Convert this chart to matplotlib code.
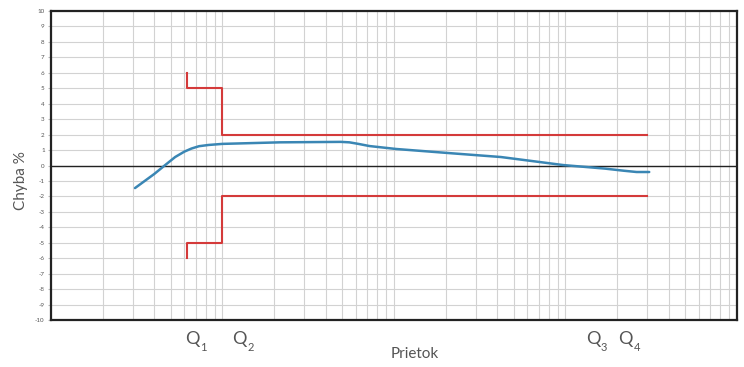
import numpy as np
import matplotlib
matplotlib.use("Agg")
import matplotlib.pyplot as plt
import matplotlib.transforms as mtransforms
from matplotlib.ticker import LogLocator, NullFormatter

# Data (x is flow on log scale, y is error %)
curve_x = [3.09, 4.0, 4.6, 5.3, 6.0, 6.6, 7.3, 8.3, 10.0, 21.6, 49.0, 55.0, 62.0, 72.0, 103.0, 212.0, 420.0, 970.0, 1700.0, 2200.0, 2600.0, 3080.0]
curve_y = [-1.46, -0.55, 0.0, 0.55, 0.9, 1.1, 1.25, 1.33, 1.40, 1.50, 1.53, 1.50, 1.40, 1.26, 1.07, 0.8, 0.55, 0.03, -0.2, -0.34, -0.42, -0.42]

upper_x = [6.25, 6.25, 10.0, 10.0, 3000.0]
upper_y = [6, 5, 5, 2, 2]
lower_x = [6.25, 6.25, 10.0, 10.0, 3000.0]
lower_y = [-6, -5, -5, -2, -2]

q_labels = ["1", "2", "3", "4"]
q_pos = [6.7, 12.6, 1450.0, 2250.0]

y_ticks = list(range(-10, 11))

plt.rcParams['font.family'] = ['Lato', 'DejaVu Sans']
fig = plt.figure(figsize=(7.44, 3.67), dpi=100)
ax = fig.add_axes([0.0685, 0.128, 0.922, 0.842])

ax.set_xscale('log')
ax.set_xlim(1, 10000)
ax.set_ylim(-10, 10)

ax.xaxis.set_major_locator(LogLocator(base=10, numticks=10))
ax.xaxis.set_minor_locator(LogLocator(base=10, subs=np.arange(2, 10), numticks=50))
ax.xaxis.set_major_formatter(NullFormatter())
ax.xaxis.set_minor_formatter(NullFormatter())
ax.set_yticks(y_ticks)
ax.set_yticklabels([str(t) for t in y_ticks])

ax.grid(True, which='both', axis='x', color='#d2d2d2', linewidth=0.8)
ax.grid(True, which='major', axis='y', color='#d2d2d2', linewidth=0.8)
ax.tick_params(axis='x', which='both', length=0)
ax.tick_params(axis='y', which='major', length=2.5, color='#bbbbbb', labelsize=4.5, labelcolor='#555555', pad=2)

for s in ax.spines.values():
    s.set_linewidth(1.6)
    s.set_color('#222222')

ax.axhline(0, color='#222222', linewidth=1.0, zorder=2)

ax.plot(upper_x, upper_y, color='#d43a3a', linewidth=1.5, zorder=3)
ax.plot(lower_x, lower_y, color='#d43a3a', linewidth=1.5, zorder=3)
ax.plot(curve_x, curve_y, color='#3a86b4', linewidth=1.8, zorder=4,
        solid_joinstyle='round', solid_capstyle='round')

ax.set_ylabel('Chyba %', fontsize=11, color='#555555')
ax.yaxis.set_label_coords(-0.034, 0.45)
ax.text(0.53, -0.11, 'Prietok', transform=ax.transAxes, ha='center', va='center',
        fontsize=11, color='#555555')

trans = mtransforms.blended_transform_factory(ax.transData, ax.transAxes)
for lab, xp in zip(q_labels, q_pos):
    ax.annotate('Q', xy=(xp, -0.035), xycoords=trans, ha='center', va='top',
                fontsize=13, color='#555555')
    ax.annotate(lab, xy=(xp, -0.035), xycoords=trans, xytext=(5.5, -8), textcoords='offset points',
                ha='left', va='top', fontsize=8, color='#555555')

fig.savefig('out.png', dpi=100)
